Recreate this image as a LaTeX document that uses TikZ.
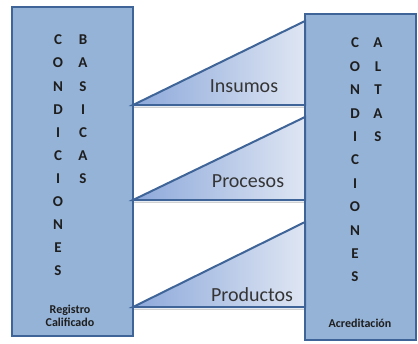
\documentclass[tikz,border=0pt]{standalone}
\usepackage{fontspec}
\setmainfont{Carlito}
\definecolor{boxfill}{HTML}{95B3D7}
\definecolor{boxline}{HTML}{3F6497}
\definecolor{triL}{HTML}{8CA8DA}
\definecolor{triR}{HTML}{DFE6F3}
\definecolor{txt}{HTML}{1E1E1E}
\begin{document}
\begin{tikzpicture}[x=1pt,y=-1pt,
  box/.style={draw=boxline, fill=boxfill, line width=2pt, minimum width=#1, inner sep=0pt},
  letter/.style={font=\bfseries\fontsize{15}{15}\selectfont, text=txt, inner sep=0pt},
  small/.style={font=\bfseries\fontsize{12}{13}\selectfont, text=txt, align=center, inner sep=0pt},
  label/.style={font=\fontsize{20}{20}\selectfont, text=txt!90, inner sep=0pt},
  triline/.style={draw=boxline, line width=2pt, line join=miter},
  shadowline/.style={draw=black!18, line width=1.5pt}]
\useasboundingbox (0,0) rectangle (418,343);
% boxes
\node[box=121pt, minimum height=329pt] (lbox) at (72.5,171.5) {};
\node[box=111pt, minimum height=326pt] (rbox) at (360.5,177) {};
% triangles
\foreach \yb/\yt [count=\k] in {105/21, 200/117, 307/222}{
  \draw[shadowline] (134,\yb+2.5) -- (304,\yb+2.5);
  \shade[left color=triL, right color=triR] (133,\yb) -- (305,\yt) -- (305,\yb) -- cycle;
  \draw[triline] (133,\yb) -- (305,\yt) -- (305,\yb) -- cycle;
  \coordinate (tri\k) at (133,\yb);
}
% labels
\node[label] (ins) at (244,86) {Insumos};
\node[label] (pro) at (248,181) {Procesos};
\node[label] (prd) at (252,295) {Productos};
% left letters
\foreach \c [count=\i] in {C,O,N,D,I,C,I,O,N,E,S}
  \node[letter] (lc\i) at (58,{40+23.1*(\i-1)}) {\c};
\foreach \c [count=\i] in {B,A,S,I,C,A,S}
  \node[letter] (lb\i) at (83,{40+23.1*(\i-1)}) {\c};
% right letters
\foreach \c [count=\i] in {C,O,N,D,I,C,I,O,N,E,S}
  \node[letter] (rc\i) at (355,{43+23.4*(\i-1)}) {\c};
\foreach \c [count=\i] in {A,L,T,A,S}
  \node[letter] (ra\i) at (378,{43+23.4*(\i-1)}) {\c};
% captions
\node[small] (reg) at (70,316) {Registro\\Calificado};
\node[small] (acr) at (360,323) {Acreditación};
\end{tikzpicture}
\end{document}
